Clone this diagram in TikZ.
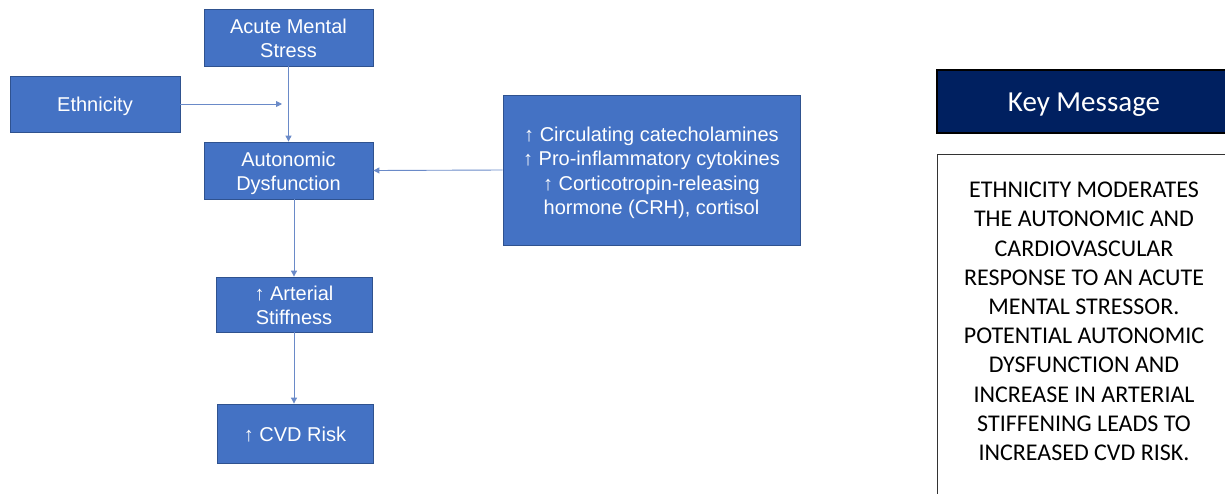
\documentclass[tikz,border=0pt]{standalone}
\usepackage{fontspec}
\setmainfont{Liberation Sans}
\newfontfamily\calfont{Carlito}
\usetikzlibrary{arrows.meta}
\definecolor{boxblue}{HTML}{4472C4}
\definecolor{boxedge}{HTML}{2F528F}
\definecolor{navy}{HTML}{002060}
\definecolor{linecol}{HTML}{6A8AC8}
\newcommand\topfix{\rule{0pt}{20pt}}
\newcommand\botfix{\rule[-4.5pt]{0pt}{0pt}}
\begin{document}
\begin{tikzpicture}[x=1pt,y=-1pt,
  bluebox/.style={draw=boxedge,line width=0.8pt,fill=boxblue,text=white,align=center,
    font=\fontsize{20}{24.5}\selectfont,inner sep=0pt},
  conn/.style={draw=linecol,line width=0.9pt,-{Triangle[length=6pt,width=6pt]}}]
\useasboundingbox (0,0) rectangle (1225,493);
\node[bluebox,minimum width=169,minimum height=57] (acute) at (288.5,37.5) {\topfix Acute Mental\\Stress\botfix};
\node[bluebox,minimum width=170,minimum height=56] (eth) at (95,104) {\topfix Ethnicity\botfix};
\node[bluebox,minimum width=169,minimum height=57] (auto) at (288.5,170.5) {\topfix Autonomic\\Dysfunction\botfix};
\node[bluebox,minimum width=156,minimum height=55] (art) at (294,304.5) {\topfix\char"2191\ Arterial\\Stiffness\botfix};
\node[bluebox,minimum width=156,minimum height=59] (cvd) at (295,433.5) {\topfix\char"2191\ CVD Risk\botfix};
\node[bluebox,minimum width=297,minimum height=150] (bio) at (651.5,170) {\topfix\char"2191\ Circulating catecholamines\\\char"2191\ Pro-inflammatory cytokines\\\char"2191\ Corticotropin-releasing\\hormone (CRH), cortisol\botfix};
\node[draw=black,line width=1.5pt,fill=navy,text=white,minimum width=294,minimum height=63,inner sep=0pt,
  font=\calfont\fontsize{29}{34}\selectfont] (key) at (1084,101.5) {\rule{0pt}{24pt}Key Message};
\node[draw=black!80,line width=0.8pt,minimum width=294,minimum height=345,inner sep=0pt] (msgbox) at (1084,326.5) {};
\node[anchor=north,align=center,inner sep=0pt,font=\calfont\fontsize{24}{29.2}\selectfont] (msgtext) at (1084,182)
  {ETHNICITY MODERATES\\THE AUTONOMIC AND\\CARDIOVASCULAR\\RESPONSE TO AN ACUTE\\MENTAL STRESSOR.\\POTENTIAL AUTONOMIC\\DYSFUNCTION AND\\INCREASE IN ARTERIAL\\STIFFENING LEADS TO\\INCREASED CVD RISK.};
\coordinate (ethend) at (282,104);
\draw[conn] (acute.south) -- (auto.north);
\draw[conn] (eth.east) -- (ethend);
\draw[conn] (bio.west) -- (auto.east);
\draw[conn] (auto.south -| art.north) -- (art.north);
\draw[conn] (art.south) -- (cvd.north -| art.south);
\end{tikzpicture}
\end{document}
